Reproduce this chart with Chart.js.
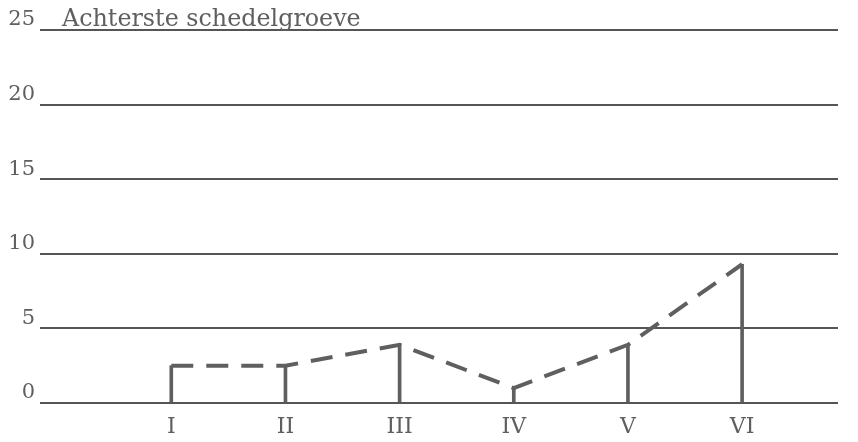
<!DOCTYPE html>
<html><head><meta charset="utf-8">
<script src="https://cdn.jsdelivr.net/npm/chart.js@4"></script>
<style>html,body{margin:0;padding:0;background:#fff}#wrap{width:858px;height:442px}</style>
</head><body><div id="wrap"><canvas id="c"></canvas></div>
<script>
const categories = ['I', 'II', 'III', 'IV', 'V', 'VI'];
const positions = [1, 2, 3, 4, 5, 6];
const values = [2.5, 2.5, 3.9, 1.0, 3.9, 9.3];
const yTicks = [0, 5, 10, 15, 20, 25];
const title = 'Achterste schedelgroeve';

const pts = positions.map((p, i) => ({ x: p, y: values[i] }));
const ink = '#5f5f5f';
const serif = "'DejaVu Serif', serif";

const titlePlugin = {
  id: 'innerTitle',
  afterDraw(chart) {
    const { ctx, chartArea, scales } = chart;
    ctx.save();
    ctx.font = '23.8px ' + serif;
    ctx.fillStyle = ink;
    ctx.textBaseline = 'alphabetic';
    ctx.textAlign = 'left';
    ctx.fillText(title, chartArea.left + 22, scales.y.getPixelForValue(25) - 4);
    ctx.restore();
  }
};

new Chart(document.getElementById('c'), {
  data: {
    datasets: [
      { type: 'line', data: pts, borderColor: ink, borderWidth: 4, borderDash: [22, 13],
        pointRadius: 0, tension: 0, fill: false, borderCapStyle: 'butt', order: 1 },
      { type: 'bar', data: pts, backgroundColor: ink, barThickness: 3, order: 2 }
    ]
  },
  options: {
    responsive: true, maintainAspectRatio: false, animation: false,
    layout: { padding: { top: 30, right: 20, left: 0, bottom: 0 } },
    plugins: { legend: { display: false }, tooltip: { enabled: false } },
    scales: {
      x: {
        type: 'linear', min: -0.15, max: 6.84, offset: false,
        afterBuildTicks(s) { s.ticks = positions.map(v => ({ value: v })); },
        afterFit(s) { s.height = 39; },
        grid: { display: false, drawTicks: false, offset: false },
        border: { display: false },
        ticks: { padding: 11, color: ink, font: { family: serif, size: 22 },
          callback: (v) => { const i = positions.indexOf(v); return i >= 0 ? categories[i] : ''; } }
      },
      y: {
        min: 0, max: 25,
        afterBuildTicks(s) { s.ticks = yTicks.map(v => ({ value: v })); },
        afterFit(s) { s.width = 40; },
        grid: { color: '#555', lineWidth: 2, drawTicks: false },
        border: { display: false },
        ticks: { padding: 5, color: ink, labelOffset: -10, font: { family: serif, size: 21 } }
      }
    }
  },
  plugins: [titlePlugin]
});
</script></body></html>
